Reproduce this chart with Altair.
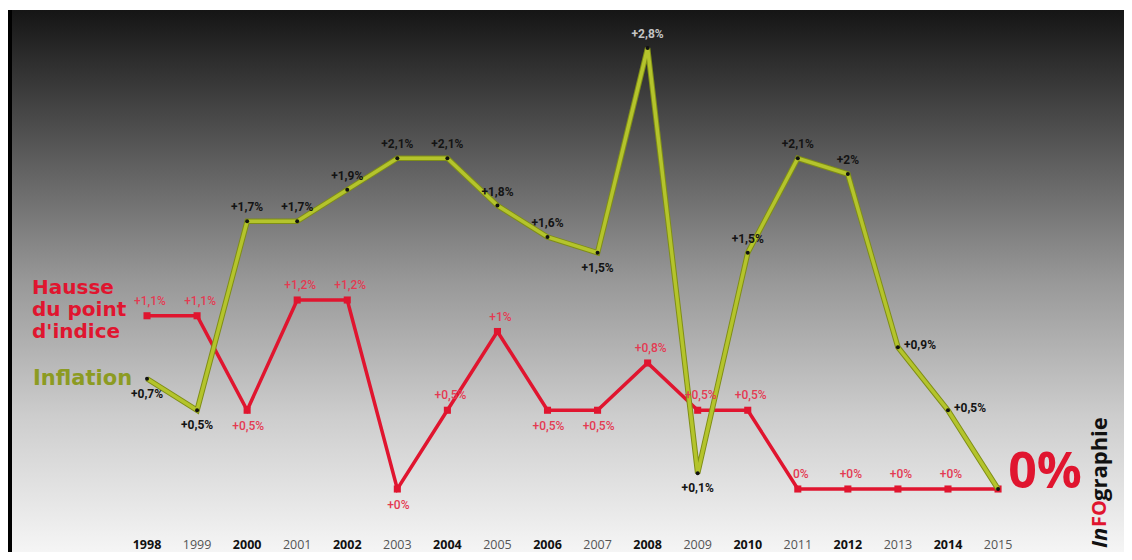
import altair as alt
import pandas as pd

# ---- data ----
years = list(range(1998, 2016))
inflation = [0.7, 0.5, 1.7, 1.7, 1.9, 2.1, 2.1, 1.8, 1.6, 1.5, 2.8, 0.1, 1.5, 2.1, 2.0, 0.9, 0.5, 0.0]
indice = [1.1, 1.1, 0.5, 1.2, 1.2, 0.0, 0.5, 1.0, 0.5, 0.5, 0.8, 0.5, 0.5, 0.0, 0.0, 0.0, 0.0, 0.0]
inflation_labels = ["+0,7%", "+0,5%", "+1,7%", "+1,7%", "+1,9%", "+2,1%", "+2,1%", "+1,8%", "+1,6%",
                    "+1,5%", "+2,8%", "+0,1%", "+1,5%", "+2,1%", "+2%", "+0,9%", "+0,5%", ""]
indice_labels = ["+1,1%", "+1,1%", "+0,5%", "+1,2%", "+1,2%", "+0%", "+0,5%", "+1%", "+0,5%",
                 "+0,5%", "+0,8%", "+0,5%", "+0,5%", "0%", "+0%", "+0%", "+0%", ""]
year_labels = [str(y) for y in years]
legend_lines = ["Hausse", "du point", "d'indice"]

# label placement groups
inf_above = [2000, 2001, 2002, 2003, 2004, 2005, 2006, 2008, 2010, 2011, 2012]
inf_below = [1998, 1999, 2007, 2009]
inf_right = [2013, 2014]
ind_above = [1998, 1999, 2001, 2002, 2004, 2005, 2008, 2009, 2010, 2011, 2012, 2013, 2014]
ind_below = [2000, 2003, 2006, 2007]

df = pd.DataFrame({
    "year": years,
    "inflation": inflation,
    "indice": indice,
    "inf_label": inflation_labels,
    "ind_label": indice_labels,
    "year_label": year_labels,
})

W, H = 1116, 544
RED = "#e0152f"
RED_LBL = "#e43a52"
OLIVE = "#b4c42c"

xs = alt.Scale(domain=[1995.223, 2017.516], nice=False, zero=False)
ys = alt.Scale(domain=[-0.40, 3.054], nice=False, zero=False)
X = alt.X("year:Q", scale=xs, axis=None)
Y_INF = alt.Y("inflation:Q", scale=ys, axis=None)
Y_IND = alt.Y("indice:Q", scale=ys, axis=None)

one = pd.DataFrame({"a": [0]})

bg = alt.Chart(one).mark_rect(
    color=alt.Gradient(
        gradient="linear", x1=0, x2=0, y1=0, y2=1,
        stops=[
            alt.GradientStop(offset=0, color="#151515"),
            alt.GradientStop(offset=0.25, color="#565656"),
            alt.GradientStop(offset=0.5, color="#989898"),
            alt.GradientStop(offset=0.75, color="#cdcdcd"),
            alt.GradientStop(offset=1, color="#f5f5f5"),
        ],
    )
).encode(x=alt.value(4), x2=alt.value(1117), y=alt.value(2), y2=alt.value(H))

border = alt.Chart(one).mark_rect(color="#000000").encode(
    x=alt.value(0), x2=alt.value(4), y=alt.value(2), y2=alt.value(H)
)

base = alt.Chart(df)

red_line = base.mark_line(color=RED, strokeWidth=3.5).encode(x=X, y=Y_IND)
red_pts = base.mark_square(color=RED, size=50, opacity=1).encode(x=X, y=Y_IND)

inf_outline = base.mark_line(color="#7f8e16", strokeWidth=5.5).encode(x=X, y=Y_INF)
inf_line = base.mark_line(color=OLIVE, strokeWidth=3.5).encode(x=X, y=Y_INF)
inf_pts = base.mark_circle(color="#111111", size=16, opacity=1).encode(x=X, y=Y_INF)


def inf_text(sel, dx, dy, align):
    return base.transform_filter(
        alt.FieldOneOfPredicate(field="year", oneOf=sel)
    ).mark_text(
        dx=dx, dy=dy, align=align, baseline="middle", fontSize=12,
        fontWeight="bold", font="Roboto"
    ).encode(
        x=X, y=Y_INF, text="inf_label:N",
        color=alt.condition("datum.year == 2008", alt.value("#c4c4c4"), alt.value("#141414")),
    )


def ind_text(sel, dx, dy):
    return base.transform_filter(
        alt.FieldOneOfPredicate(field="year", oneOf=sel)
    ).mark_text(
        dx=dx, dy=dy, align="center", baseline="middle", fontSize=12,
        fontWeight=500, font="Roboto", color=RED_LBL
    ).encode(x=X, y=Y_IND, text="ind_label:N")


inf_lbls = [
    inf_text(inf_above, 0, -14, "center"),
    inf_text(inf_below, 0, 15, "center"),
    inf_text(inf_right, 6, -2, "left"),
]
ind_lbls = [
    ind_text(ind_above, 3, -15),
    ind_text(ind_below, 1, 16),
]

big_zero = base.transform_filter("datum.year == 2015").mark_text(
    text="0%", fontSize=50, fontWeight="bold", font="Open Sans", color=RED,
    dx=47, dy=-16, align="center", baseline="middle"
).encode(x=X, y=Y_IND)

years_even = base.transform_filter("datum.year % 2 == 0").mark_text(
    fontSize=12.5, fontWeight="bold", font="Open Sans", color="#111111", baseline="middle"
).encode(x=X, y=alt.value(537), text="year_label:N")
years_odd = base.transform_filter("datum.year % 2 == 1").mark_text(
    fontSize=12.5, fontWeight="normal", font="Open Sans", color="#555555", baseline="middle"
).encode(x=X, y=alt.value(537), text="year_label:N")

legend_red = [
    alt.Chart(one).mark_text(
        text=t, align="left", baseline="middle",
        fontSize=20, fontWeight="bold", font="DejaVu Sans", color=RED
    ).encode(x=alt.value(24), y=alt.value(yy))
    for t, yy in zip(legend_lines, [280, 302, 324])
]
legend_inf = alt.Chart(one).mark_text(
    text="Inflation", align="left", baseline="middle",
    fontSize=21, fontWeight="bold", font="DejaVu Sans", color="#8c9b22"
).encode(x=alt.value(25), y=alt.value(371))

logo_in = alt.Chart(one).mark_text(
    text="In", angle=270, align="left", baseline="middle", fontSize=22,
    fontWeight="bold", fontStyle="italic", font="Open Sans", color="#111111"
).encode(x=alt.value(1092), y=alt.value(540))
logo_fo = alt.Chart(one).mark_text(
    text="FO", angle=270, align="left", baseline="middle", fontSize=20,
    fontWeight="bold", font="Open Sans", color=RED
).encode(x=alt.value(1092), y=alt.value(519))
logo_gr = alt.Chart(one).mark_text(
    text="graphie", angle=270, align="left", baseline="middle", fontSize=22,
    fontWeight="bold", font="Open Sans", color="#111111"
).encode(x=alt.value(1092), y=alt.value(493))

chart = alt.layer(
    bg, border,
    red_line, red_pts,
    inf_outline, inf_line, inf_pts,
    *inf_lbls, *ind_lbls,
    big_zero, years_even, years_odd,
    *legend_red, legend_inf,
    logo_in, logo_fo, logo_gr,
).properties(
    width=W, height=H, padding=0, background="#ffffff",
    autosize=alt.AutoSizeParams(type="none"),
).configure_view(stroke=None)

chart.save("out.html", embed_options={"renderer": "svg", "actions": False})
